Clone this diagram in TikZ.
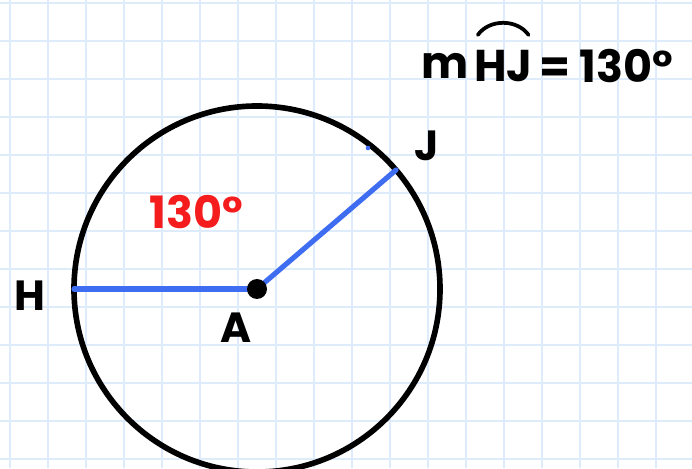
\documentclass[tikz,border=0pt]{standalone}
\usepackage{fontspec}
\setmainfont{Poppins}
\usetikzlibrary{positioning}
\definecolor{gridblue}{HTML}{DDEBFA}
\definecolor{radblue}{HTML}{3F6DF2}
\definecolor{arcred}{HTML}{F41C1C}

\begin{document}
\begin{tikzpicture}[
    x=0.03cm, y=0.03cm,
    gridline/.style={gridblue, line width=2.2pt},
    circ/.style={draw=black, line width=4.8pt},
    radline/.style={radblue, line width=4.4pt, line cap=round},
    ptlabel/.style={font=\fontsize{36}{36}\selectfont\bfseries, inner sep=0pt},
    measure/.style={font=\fontsize{38}{38}\selectfont\bfseries, inner sep=0pt},
    centre/.style={circle, fill=black, minimum size=0.6cm, inner sep=0pt},
]

\useasboundingbox (0,0) rectangle (692,468);
\fill[white] (0,0) rectangle (692,468);

% grid paper
\foreach \gx in {0,...,17} \draw[gridline] (10+38*\gx,0) -- (10+38*\gx,468);
\foreach \gy in {0,...,12} \draw[gridline] (0,465-38*\gy) -- (692,465-38*\gy);

% circle with its two radii
\coordinate (A) at (257,179);
\coordinate (H) at (74,179);
\coordinate (J) at (396,298);
\draw[circ] (A) circle[radius=5.49cm];
\draw[radline] (H) -- (A);
\draw[radline] (A) -- (J);
\node[centre] (Adot) at (A) {};
\fill[radblue] (368,320) circle[radius=0.07cm];

\node[ptlabel] (Hlbl) at (30,172) {H};
\node[ptlabel] (Albl) at (236,140) {A};
\node[ptlabel] (Jlbl) at (427,322) {J};
\node[measure, arcred] (anglbl) at (196,256) {130°};

% arc measure
\node[measure] (mlbl) at (445,402) {m};
\node[measure, right=0.15cm of mlbl.east, anchor=west] (hjlbl) {HJ};
\node[measure, right=0.2cm of hjlbl.east, anchor=west] (eqlbl) {= 130°};
\draw[line width=3.2pt, line cap=round] ([xshift=0.12cm,yshift=0.45cm]hjlbl.north west) to[bend left=55] ([xshift=-0.12cm,yshift=0.45cm]hjlbl.north east);

\end{tikzpicture}
\end{document}
